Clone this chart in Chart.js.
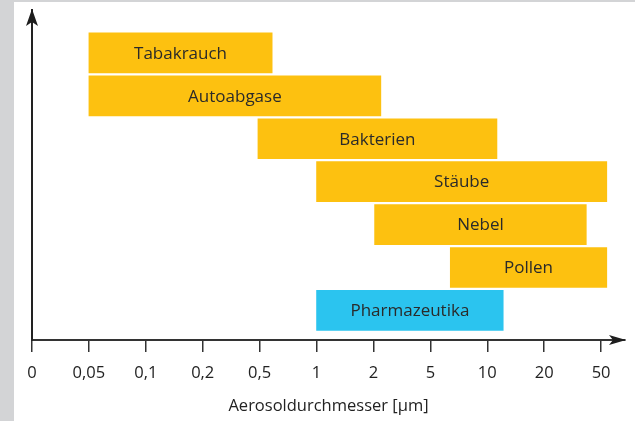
<!DOCTYPE html>
<html>
<head>
<meta charset="utf-8">
<script src="https://cdn.jsdelivr.net/npm/chart.js@4"></script>
<style>
  html, body { margin: 0; padding: 0; background: #fff; }
  #wrap { width: 635px; height: 421px; }
</style>
</head>
<body>
<div id="wrap"><canvas id="aerosolChart" width="635" height="421"></canvas></div>
<script>
// Aerosol-Größenbereiche (x-Werte = Position auf der gleichmäßig geteilten Skala)
const categories = ["Tabakrauch", "Autoabgase", "Bakterien", "Stäube", "Nebel", "Pollen", "Pharmazeutika"];
const rangeStart = [1.0, 1.0, 3.97, 5.0, 6.02, 7.35, 5.0];
const rangeEnd = [4.22, 6.13, 8.17, 10.1, 9.74, 10.1, 8.28];
const tickLabels = ["0", "0,05", "0,1", "0,2", "0,5", "1", "2", "5", "10", "20", "50"];
const barColors = ["#fdc110", "#fdc110", "#fdc110", "#fdc110", "#fdc110", "#fdc110", "#2bc4ef"];

const FONT = "'Open Sans', 'Noto Sans', sans-serif";

// Hintergrund, Pfeile und Beschriftungen der Balken
const decoPlugin = {
  id: "deco",
  beforeDraw(chart) {
    const ctx = chart.ctx;
    ctx.save();
    ctx.fillStyle = "#d3d4d6";
    ctx.fillRect(0, 0, 14, chart.height);
    ctx.fillRect(0, 0, chart.width, 2);
    ctx.restore();
  },
  afterDraw(chart) {
    const ctx = chart.ctx;
    const area = chart.chartArea;
    ctx.save();
    ctx.fillStyle = "#1e1e1e";
    // Pfeil y-Achse
    ctx.beginPath();
    ctx.moveTo(area.left, area.top - 1);
    ctx.lineTo(area.left - 6, area.top + 16);
    ctx.lineTo(area.left, area.top + 12);
    ctx.lineTo(area.left + 6, area.top + 16);
    ctx.closePath();
    ctx.fill();
    // Pfeil x-Achse
    ctx.beginPath();
    ctx.moveTo(area.right + 1, area.bottom);
    ctx.lineTo(area.right - 16, area.bottom - 5);
    ctx.lineTo(area.right - 12, area.bottom);
    ctx.lineTo(area.right - 16, area.bottom + 5);
    ctx.closePath();
    ctx.fill();

    // Text in den Balken
    ctx.fillStyle = "#2a2a2a";
    ctx.font = "17px " + FONT;
    ctx.textAlign = "center";
    ctx.textBaseline = "middle";
    chart.getDatasetMeta(0).data.forEach((bar, i) => {
      ctx.fillText(categories[i], (bar.x + bar.base) / 2, bar.y + 1);
    });
    ctx.restore();
  },
};

const ctx = document.getElementById("aerosolChart").getContext("2d");

new Chart(ctx, {
  type: "bar",
  data: {
    datasets: [
      {
        data: categories.map((c, i) => ({ x: [rangeStart[i], rangeEnd[i]], y: i })),
        backgroundColor: barColors,
        borderWidth: 0,
        barThickness: 40,
      },
    ],
  },
  options: {
    indexAxis: "y",
    responsive: false,
    animation: false,
    layout: { padding: { top: 10, right: 10, left: 0, bottom: 0 } },
    scales: {
      x: {
        type: "linear",
        min: 0,
        max: 10.42,
        afterFit: (s) => { s.height = 81; },
        afterBuildTicks: (s) => {
          s.ticks = s.ticks.filter((t) => Number.isInteger(t.value));
        },
        ticks: {
          stepSize: 1,
          includeBounds: false,
          padding: 11,
          color: "#222",
          font: { size: 16.5, family: FONT },
          maxRotation: 0,
          autoSkip: false,
          callback: (v) => tickLabels[v] ?? "",
        },
        grid: {
          drawOnChartArea: false,
          tickLength: 12,
          color: "#333",
          lineWidth: 1.5,
        },
        border: { color: "#333", width: 2 },
        title: {
          display: true,
          text: "Aerosoldurchmesser [µm]",
          color: "#222",
          font: { size: 16.5, family: FONT },
          padding: { top: 0, bottom: 5 },
        },
      },
      y: {
        type: "linear",
        reverse: true,
        offset: false,
        min: -1,
        max: 6.69,
        afterFit: (s) => { s.width = 32; },
        ticks: { display: false },
        grid: { display: false, offset: false },
        border: { color: "#222", width: 2 },
      },
    },
    plugins: {
      legend: { display: false },
      tooltip: { enabled: false },
    },
  },
  plugins: [decoPlugin],
});
</script>
</body>
</html>
